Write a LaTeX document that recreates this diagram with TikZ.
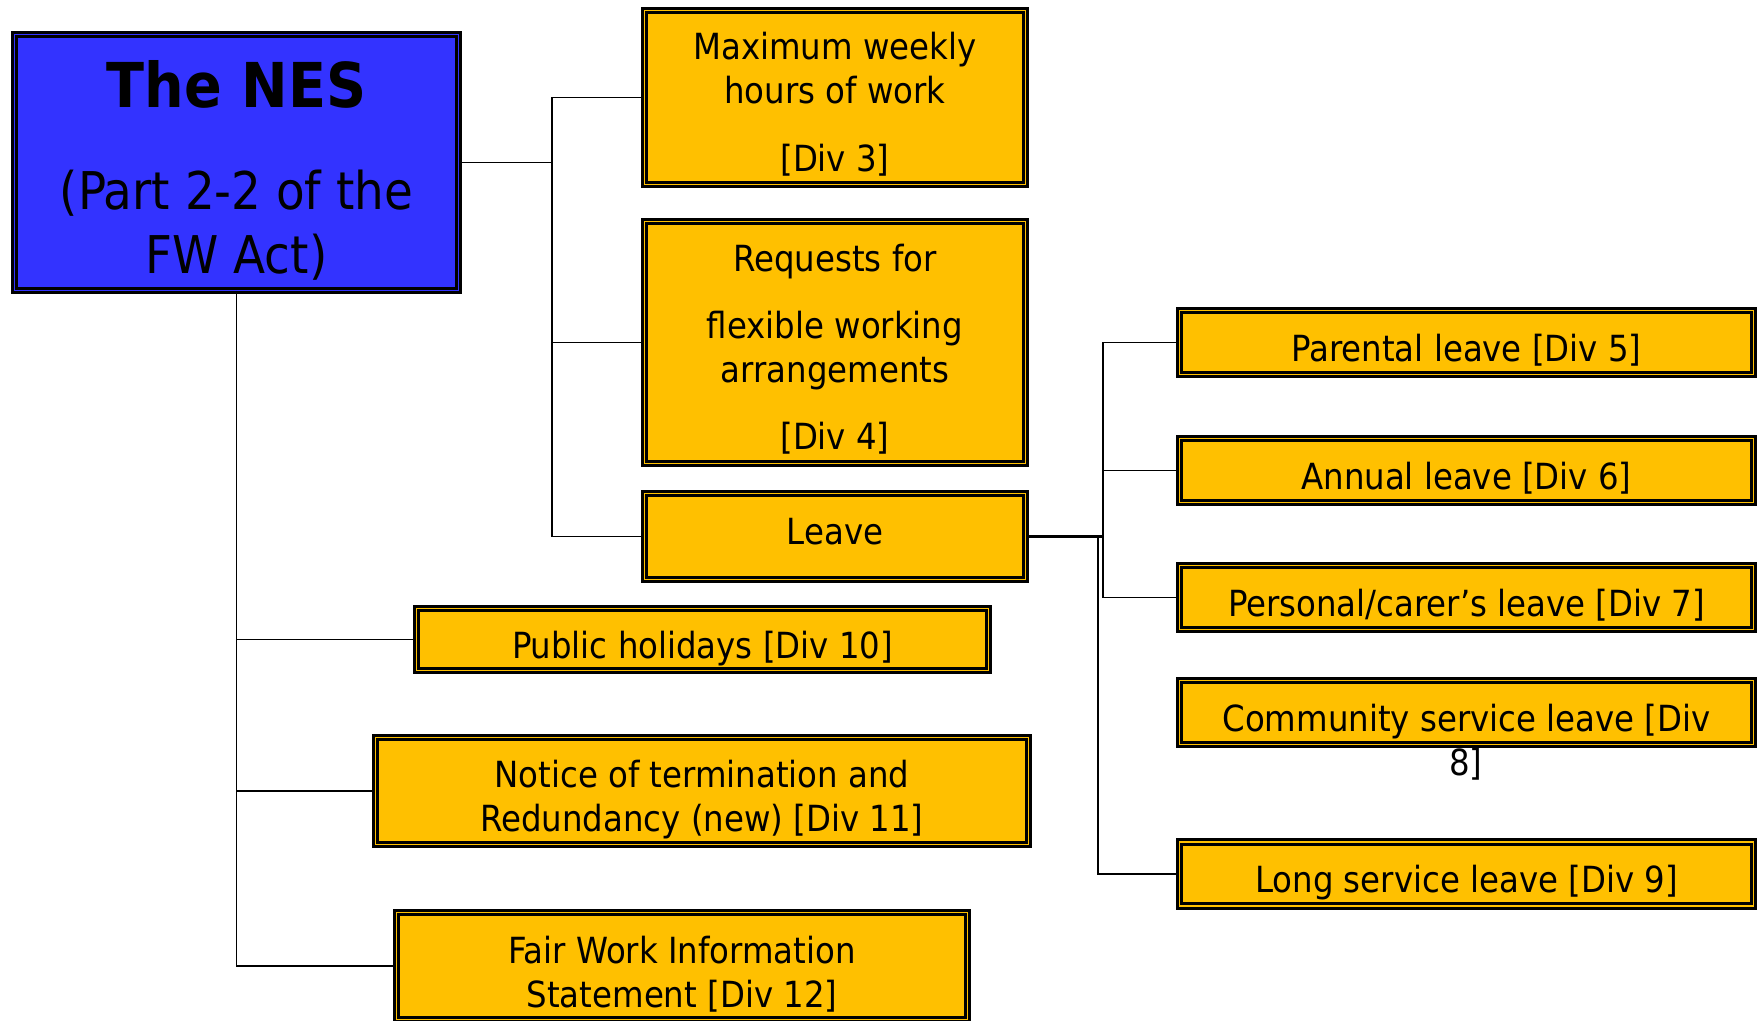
\documentclass[tikz,border=0pt]{standalone}
\usepackage{fontspec}
\setmainfont{DejaVu Sans Condensed}
\usepackage{xcolor}
\usetikzlibrary{positioning}
\definecolor{nesblue}{HTML}{3333FF}
\definecolor{divgold}{HTML}{FFC000}
% invisible strut that pushes the first line of a box down
\newcommand{\drop}[1]{\rule{0pt}{#1}}

\begin{document}
\begin{tikzpicture}[x=0.025cm,y=-0.025cm,
    div node/.style={rectangle,draw=black,line width=2pt,double=divgold,double distance=1.2pt,
                     fill=divgold,inner sep=0pt,align=center,font=\fontsize{25.6}{31.3}\selectfont},
    nes node/.style={div node,double=nesblue,fill=nesblue,font=\fontsize{37}{45.5}\selectfont},
    leaf node/.style={div node,minimum width=14.35cm,minimum height=1.6cm},
    elbow/.style={to path={|- (\tikztotarget)}},
    link/.style={draw=black,line width=1.4pt}]
\clip (0,0) rectangle (1759,1020);
%root
  \node[nes node,minimum width=11.1cm,minimum height=6.4cm] (nes) at (236.5,162.5)
    {\drop{45pt}{\fontsize{44}{44}\selectfont\bfseries The NES}\\[27pt](Part 2-2 of the\\FW Act)};
%upper branch
  \node[div node,minimum width=9.52cm,minimum height=4.35cm] (maxw) at (835,97.5)
    {\drop{29pt}Maximum weekly\\hours of work\\[16.4pt][Div 3]};
  \node[div node,minimum width=9.52cm,minimum height=6.05cm] (req) at (835,342.5)
    {\drop{28.5pt}Requests for\\[16.4pt]flexible working\\arrangements\\[16.4pt][Div 4]};
  \node[div node,minimum width=9.52cm,minimum height=2.15cm] (leave) at (835,536.5)
    {\rule[-8pt]{0pt}{8pt}Leave};
%lower branch
  \node[div node,minimum width=14.3cm,minimum height=1.55cm] (pub) at (702.5,639.5)
    {\drop{32pt}Public holidays [Div 10]};
  \node[div node,minimum width=16.32cm,minimum height=2.68cm] (notice) at (702,791)
    {\drop{31.5pt}Notice of termination and\\Redundancy (new) [Div 11]};
  \node[div node,minimum width=14.27cm,minimum height=2.68cm] (fair) at (682,966)
    {\drop{31pt}Fair Work Information\\Statement [Div 12]};
%leave types
  \node[leaf node] (parental) at (1466.5,342.5) {\drop{30.5pt}Parental leave [Div 5]};
  \node[leaf node] (annual) at (1466.5,470.5) {\drop{30.5pt}Annual leave [Div 6]};
  \node[leaf node] (personal) at (1466.5,597.5) {\drop{30pt}Personal/carer’s leave [Div 7]};
  \node[leaf node] (cs) at (1466.5,712.5) {\drop{32pt}Community service leave [Div};
  \node[font=\fontsize{25.6}{31.3}\selectfont,inner sep=0pt] (cs8) at (1466,764) {8]};
  \node[leaf node] (longsvc) at (1466.5,874) {\drop{32pt}Long service leave [Div 9]};

  \coordinate (busa) at (552,162.5);
  \coordinate (busb) at (1103,536.5);
  \coordinate (busc) at (1098,536.5);

  \path[link]
  (nes.east) edge (busa)
  (busa) edge[elbow] (maxw.west)
  (busa) edge[elbow] (req.west)
  (busa) edge[elbow] (leave.west)

  (nes.south) edge[elbow] (pub.west)
  (nes.south) edge[elbow] (notice.west)
  (nes.south) edge[elbow] (fair.west)

  (leave.east) edge[line width=2.6pt] (busb)
  (busb) edge[elbow] (parental.west)
  (busb) edge[elbow] (annual.west)
  (busb) edge[elbow] (personal.west)
  (busc) edge[elbow] (longsvc.west);
\end{tikzpicture}
\end{document}
